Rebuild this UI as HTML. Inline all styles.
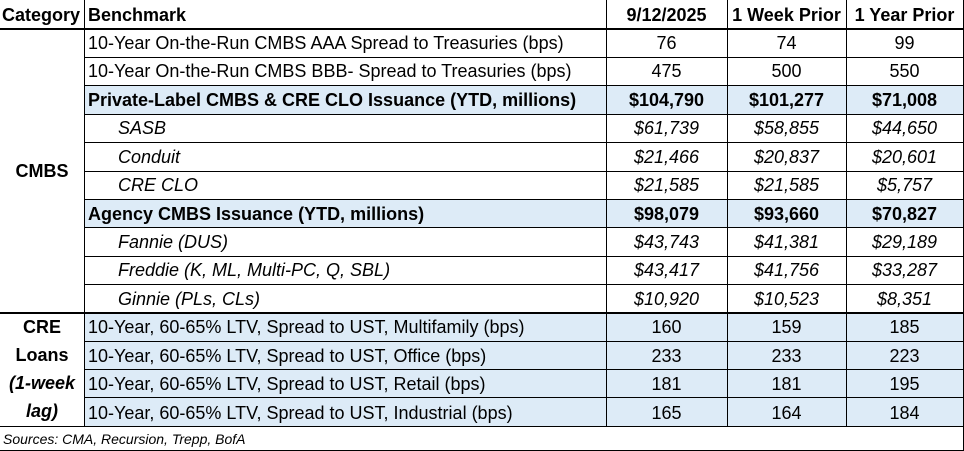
<!DOCTYPE html>
<html><head><style>
body{margin:0;width:964px;height:451px;background:#fff;position:relative;overflow:hidden;font-family:"Liberation Sans",Arial,sans-serif;color:#000}
.c{position:absolute;font-size:18px;line-height:28px;white-space:nowrap}
.b{font-weight:bold}.i{font-style:italic}
.v{position:absolute;width:1px;background:#000}
.h{position:absolute;height:1px;background:#000}
</style></head><body>
<div style="position:absolute;left:84px;top:86px;width:879px;height:29px;background:#DDEBF7"></div>
<div style="position:absolute;left:84px;top:200px;width:879px;height:28px;background:#DDEBF7"></div>
<div style="position:absolute;left:84px;top:313px;width:879px;height:114px;background:#DDEBF7"></div>

<div class="h" style="left:0;top:28px;width:964px;height:2px"></div>
<div class="h" style="left:84px;top:57px;width:879px"></div>
<div class="h" style="left:84px;top:85px;width:879px"></div>
<div class="h" style="left:84px;top:114px;width:879px"></div>
<div class="h" style="left:84px;top:142px;width:879px"></div>
<div class="h" style="left:84px;top:171px;width:879px"></div>
<div class="h" style="left:84px;top:199px;width:879px"></div>
<div class="h" style="left:84px;top:227px;width:879px"></div>
<div class="h" style="left:84px;top:256px;width:879px"></div>
<div class="h" style="left:84px;top:284px;width:879px"></div>
<div class="h" style="left:0;top:312px;width:964px;height:2px"></div>
<div class="h" style="left:84px;top:341px;width:879px"></div>
<div class="h" style="left:84px;top:369px;width:879px"></div>
<div class="h" style="left:84px;top:397px;width:879px"></div>
<div class="h" style="left:0;top:426px;width:964px"></div>
<div class="h" style="left:0;top:450px;width:964px"></div>

<div class="v" style="left:84px;top:0;height:427px"></div>
<div class="v" style="left:606px;top:0;height:427px"></div>
<div class="v" style="left:727px;top:0;height:427px"></div>
<div class="v" style="left:846px;top:0;height:427px"></div>
<div class="v" style="left:963px;top:0;height:451px"></div>

<div class="c b" style="left:2px;top:1px">Category</div>
<div class="c b" style="left:88px;top:1px">Benchmark</div>
<div class="c b" style="left:606px;width:121px;text-align:center;top:1px">9/12/2025</div>
<div class="c b" style="left:727px;width:119px;text-align:center;top:1px">1 Week Prior</div>
<div class="c b" style="left:846px;width:117px;text-align:center;top:1px">1 Year Prior</div>

<div class="c b" style="left:0;width:84px;text-align:center;top:157px">CMBS</div>
<div class="c b" style="left:0;width:84px;text-align:center;top:313px;line-height:28px">CRE<br>Loans<br><i>(1-week</i><br><i>lag)</i></div>

<div id="rows"></div>
<script>
var rows=[
["10-Year On-the-Run CMBS AAA Spread to Treasuries (bps)","76","74","99",""],
["10-Year On-the-Run CMBS BBB- Spread to Treasuries (bps)","475","500","550",""],
["Private-Label CMBS &amp; CRE CLO Issuance (YTD, millions)","$104,790","$101,277","$71,008","b"],
["SASB","$61,739","$58,855","$44,650","i"],
["Conduit","$21,466","$20,837","$20,601","i"],
["CRE CLO","$21,585","$21,585","$5,757","i"],
["Agency CMBS Issuance (YTD, millions)","$98,079","$93,660","$70,827","b"],
["Fannie (DUS)","$43,743","$41,381","$29,189","i"],
["Freddie (K, ML, Multi-PC, Q, SBL)","$43,417","$41,756","$33,287","i"],
["Ginnie (PLs, CLs)","$10,920","$10,523","$8,351","i"],
["10-Year, 60-65% LTV, Spread to UST, Multifamily (bps)","160","159","185",""],
["10-Year, 60-65% LTV, Spread to UST, Office (bps)","233","233","223",""],
["10-Year, 60-65% LTV, Spread to UST, Retail (bps)","181","181","195",""],
["10-Year, 60-65% LTV, Spread to UST, Industrial (bps)","165","164","184",""]];
var h="";
rows.forEach(function(r,k){
 var t=29+k*28.43;
 var cls="c "+r[4];
 var lx=r[4]=="i"?118:88;
 h+='<div class="'+cls+'" style="left:'+lx+'px;top:'+t+'px">'+r[0]+'</div>';
 h+='<div class="'+cls+'" style="left:606px;width:121px;text-align:center;top:'+t+'px">'+r[1]+'</div>';
 h+='<div class="'+cls+'" style="left:727px;width:119px;text-align:center;top:'+t+'px">'+r[2]+'</div>';
 h+='<div class="'+cls+'" style="left:846px;width:117px;text-align:center;top:'+t+'px">'+r[3]+'</div>';
});
document.getElementById("rows").innerHTML=h;
</script>
<div class="c i" style="left:3px;top:427px;font-size:14px;line-height:24px">Sources: CMA, Recursion, Trepp, BofA</div>
</body></html>
